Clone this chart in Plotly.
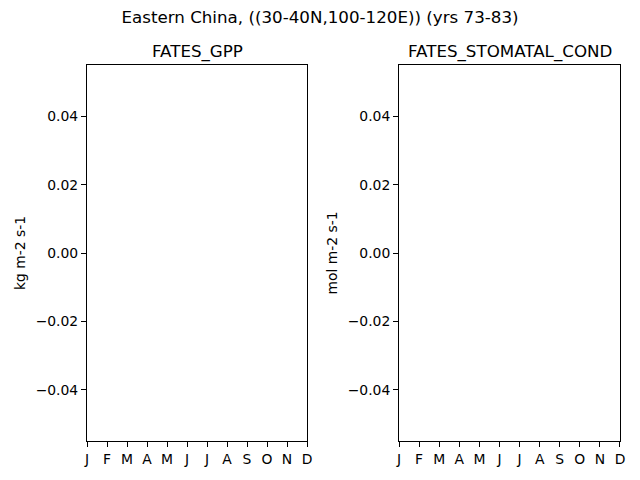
import plotly.graph_objects as go

# ================= DATA =================
MONTHS = [1, 2, 3, 4, 5, 6, 7, 8, 9, 10, 11, 12]
MONTH_LABELS = ["J", "F", "M", "A", "M", "J", "J", "A", "S", "O", "N", "D"]
# climatology came back empty (all NaN) for this region
GPP = [None, None, None, None, None, None, None, None, None, None, None, None]
STOMATAL_COND = [None, None, None, None, None, None, None, None, None, None, None, None]
Y_TICKS = [-0.04, -0.02, 0.0, 0.02, 0.04]
Y_RANGE = [-0.055, 0.055]
# ========================================

FONT = "DejaVu Sans"
TICK_SIZE = 13.9
TITLE_SIZE = 16.7
SPLIT = (0.4128, 0.5854)

fig = go.Figure()
fig.add_trace(go.Scatter(x=MONTHS, y=GPP, mode="lines", xaxis="x", yaxis="y",
                         line=dict(color="#1f77b4"), showlegend=False))
fig.add_trace(go.Scatter(x=MONTHS, y=STOMATAL_COND, mode="lines", xaxis="x2", yaxis="y2",
                         line=dict(color="#1f77b4"), showlegend=False))

axis_common = dict(
    showline=True, linecolor="black", linewidth=1, mirror=True,
    ticks="outside", ticklen=5, tickwidth=1, tickcolor="black",
    showgrid=False, zeroline=False,
    tickfont=dict(family=FONT, size=TICK_SIZE, color="black"),
)

xcommon = dict(axis_common, range=[1, 12], tickmode="array",
               tickvals=MONTHS, ticktext=MONTH_LABELS)
ycommon = dict(axis_common, range=Y_RANGE, tickmode="array",
               tickvals=Y_TICKS, tickformat=".2f")

fig.update_layout(
    width=640, height=480,
    margin=dict(l=87, r=20, t=65, b=39),
    paper_bgcolor="white", plot_bgcolor="white",
    font=dict(family=FONT, color="black"),
    title=dict(text="Eastern China, ((30-40N,100-120E)) (yrs 73-83)",
               x=0.5, xref="container", xanchor="center",
               y=1 - 17 / 480, yref="container", yanchor="middle",
               font=dict(family=FONT, size=TITLE_SIZE)),
    xaxis=dict(xcommon, domain=[0, SPLIT[0]], anchor="y"),
    yaxis=dict(ycommon, domain=[0, 1], anchor="x",
               title=dict(text="kg m-2 s-1", font=dict(family=FONT, size=TICK_SIZE), standoff=6)),
    xaxis2=dict(xcommon, domain=[SPLIT[1], 1], anchor="y2"),
    yaxis2=dict(ycommon, domain=[0, 1], anchor="x2",
                title=dict(text="mol m-2 s-1", font=dict(family=FONT, size=TICK_SIZE), standoff=6)),
    showlegend=False,
)

# subplot titles
fig.add_annotation(text="FATES_GPP", xref="x domain", yref="paper", x=0.5, y=1,
                   yshift=14, xanchor="center", yanchor="middle", showarrow=False,
                   font=dict(family=FONT, size=TITLE_SIZE))
fig.add_annotation(text="FATES_STOMATAL_COND", xref="x2 domain", yref="paper", x=0.5, y=1,
                   yshift=14, xanchor="center", yanchor="middle", showarrow=False,
                   font=dict(family=FONT, size=TITLE_SIZE))

# drop the browser's default body margin so the figure sits at (0, 0)
fig.write_html("out.html", config={"displayModeBar": False},
               post_script="document.body.style.margin='0';")
